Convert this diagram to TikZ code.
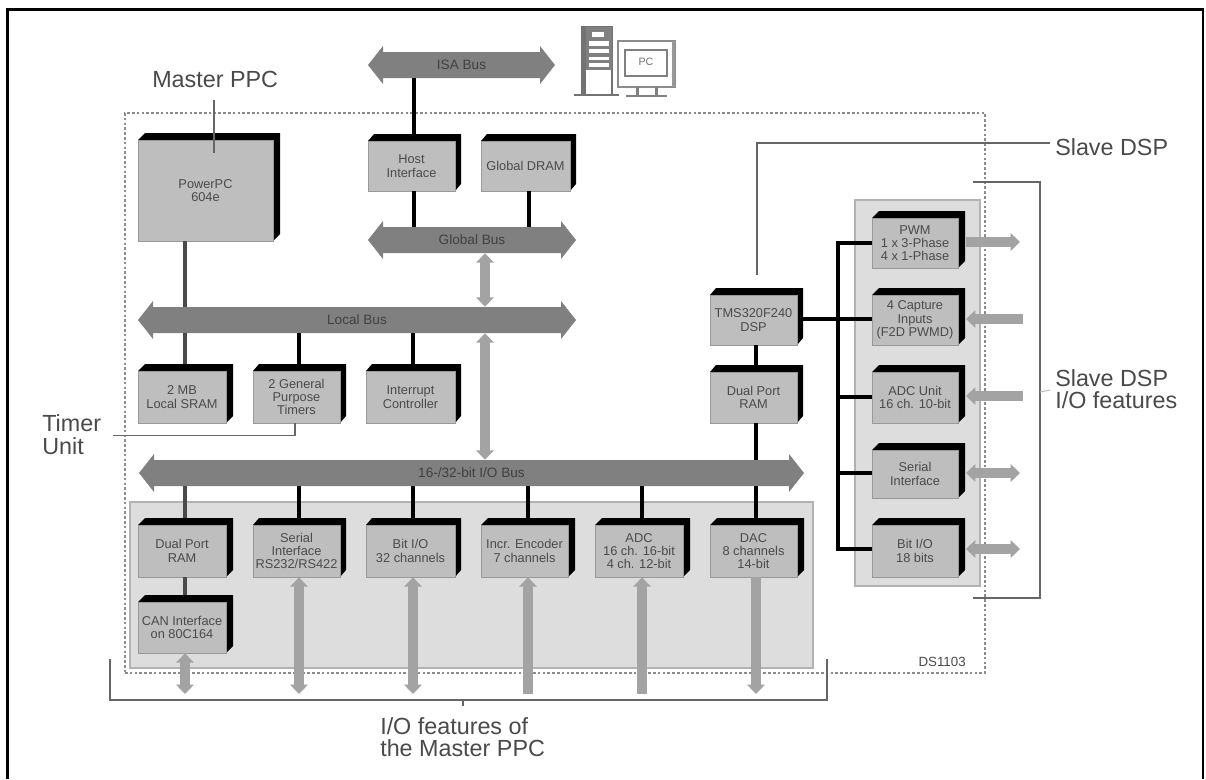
\documentclass[tikz,border=0pt]{standalone}
\usepackage{fontspec}
\setmainfont{Liberation Sans}
\usetikzlibrary{arrows.meta,calc}
\definecolor{boxgray}{HTML}{BEBEBE}
\definecolor{busgray}{HTML}{808080}
\definecolor{panelgray}{HTML}{DDDDDD}
\definecolor{arrowgray}{HTML}{A3A3A3}
\definecolor{inkgray}{HTML}{4A4A4A}
\definecolor{linegray}{HTML}{666666}
\tikzset{
  x=0.75pt,y=-0.75pt,
  boxface/.style={fill=boxgray,draw=black!40,line width=0.5pt,inner sep=0pt,align=center,font=\fontsize{9.6}{10}\selectfont,text=inkgray},
  busface/.style={inner sep=0pt,font=\fontsize{10.2}{11}\selectfont,text=black!75},
  caption/.style={anchor=west,inner sep=0pt,align=left,font=\fontsize{17.5}{16.8}\selectfont,text=inkgray},
  wirethin/.style={draw=black,line width=2.5pt},
  wirethick/.style={draw=inkgray,line width=3.6pt},
  leader/.style={draw=linegray,line width=1pt},
  ioboth/.style={draw=arrowgray,line width=7.5pt,{Triangle[length=7pt,width=13pt]}-{Triangle[length=7pt,width=13pt]}},
  ioout/.style={draw=arrowgray,line width=7.5pt,-{Triangle[length=7pt,width=13pt]}},
  dotline/.style={draw=black!45,line width=0.9pt,dash pattern=on 2pt off 1.6pt},
}
% name, x1, y1, x2, y2, depth, text
\newcommand{\solidbox}[7]{%
  \fill[black] (#2,#3) -- (#2+#6,#3-7) -- (#4+#6,#3-7) -- (#4+#6,#5-7) -- (#4,#5) -- cycle;
  \node[boxface,minimum width=(#4-#2)*0.75pt,minimum height=(#5-#3)*0.75pt] (#1) at ({(#2+#4)/2},{(#3+#5)/2}) {#7};
}
% name, x1, x2, ycentre, label
\newcommand{\busarrow}[5]{%
  \fill[busgray] (#2,#4) -- (#2+15,#4-19) -- (#2+15,#4-13) -- (#3-15,#4-13) -- (#3-15,#4-19) -- (#3,#4) -- (#3-15,#4+19) -- (#3-15,#4+13) -- (#2+15,#4+13) -- (#2+15,#4+19) -- cycle;
  \node[busface,minimum width=(#3-#2-30)*0.75pt,minimum height=26*0.75pt] (#1) at ({(#2+#3)/2},#4) {#5};
}
\begin{document}
\begin{tikzpicture}
\useasboundingbox (0,0) rectangle (1206,779);
\fill[white] (0,0) rectangle (1206,779);
% frame
\draw[black,line width=2.2pt] (7.5,779) coordinate (fa) -- (7.5,9.5) -- (1203,9.5) -- (1203,779);

% panels
\node[fill=panelgray,draw=black!30,line width=0.8pt,minimum width=683*0.75pt,minimum height=166*0.75pt,inner sep=0pt] (lowerpanel) at (471.5,585) {};
\node[fill=panelgray,draw=black!30,line width=0.8pt,minimum width=125*0.75pt,minimum height=386*0.75pt,inner sep=0pt] (rightpanel) at (917.5,393) {};
% DS1103 border
\node[dotline,minimum width=860*0.75pt,minimum height=560*0.75pt,inner sep=0pt] (ds) at (555,393) {};
\node[anchor=east,inner sep=0pt,font=\fontsize{10}{11}\selectfont,text=inkgray] (dslabel) at (966,662) {DS1103};

% buses
\busarrow{isa}{368}{555}{65}{ISA Bus}
\busarrow{gbus}{368}{576}{240}{Global Bus}
\busarrow{lbus}{138}{576}{320}{Local Bus}
\busarrow{iobus}{139}{804}{473}{16-/32-bit I/O Bus}

% boxes
\solidbox{ppc}{138}{140}{273}{241}{7}{PowerPC\\604e}
\solidbox{host}{368}{141}{455}{191}{6}{Host\\Interface}
\solidbox{dram}{481}{141}{570}{191}{6}{Global DRAM}
\solidbox{sram}{138}{371}{226}{423}{7}{2 MB\\Local SRAM}
\solidbox{timers}{253}{371}{340}{423}{6}{2 General\\Purpose\\Timers}
\solidbox{irq}{366}{371}{455}{423}{6}{Interrupt\\Controller}
\solidbox{dpm}{138}{525}{226}{577}{7}{Dual Port\\RAM}
\solidbox{serm}{253}{525}{340}{577}{6}{Serial\\Interface\\RS232/RS422}
\solidbox{bitm}{366}{525}{455}{577}{6}{Bit I/O\\32 channels}
\solidbox{enc}{481}{525}{568}{577}{7}{Incr. Encoder\\7 channels}
\solidbox{adcm}{595}{525}{683}{577}{7}{ADC\\16 ch. 16-bit\\4 ch. 12-bit}
\solidbox{dac}{710}{525}{797}{577}{7}{DAC\\8 channels\\14-bit}
\solidbox{can}{138}{602}{226}{653}{7}{CAN Interface\\on 80C164}
\solidbox{dsp}{710}{295}{797}{345}{6}{TMS320F240\\DSP}
\solidbox{dps}{710}{372}{797}{423}{6}{Dual Port\\RAM}
\solidbox{pwm}{872}{218}{958}{268}{7}{PWM\\1 x 3-Phase\\4 x 1-Phase}
\solidbox{cap}{872}{295}{958}{345}{7}{4 Capture\\Inputs\\(F2D PWMD)}
\solidbox{adcs}{872}{372}{958}{423}{7}{ADC Unit\\16 ch. 10-bit}
\solidbox{sers}{872}{450}{958}{498}{7}{Serial\\Interface}
\solidbox{bits}{872}{525}{958}{577}{7}{Bit I/O\\18 bits}

% wires
\draw[wirethick] (ppc.south -| 185,0) -- (lbus.north -| 185,0);
\draw[wirethick] (lbus.south -| 185,0) -- ($(sram.north -| 185,0)+(0,-7)$);
\draw[wirethin] (isa.south -| 414,0) -- ($(host.north -| 414,0)+(0,-7)$);
\draw[wirethin] (host.south -| 414,0) -- (gbus.north -| 414,0);
\draw[wirethin] (dram.south -| 529,0) -- (gbus.north -| 529,0);
\draw[wirethin] (lbus.south -| 299,0) -- ($(timers.north -| 299,0)+(0,-7)$);
\draw[wirethin] (lbus.south -| 413,0) -- ($(irq.north -| 413,0)+(0,-7)$);
\draw[wirethick] (iobus.south -| 185,0) -- ($(dpm.north -| 185,0)+(0,-7)$);
\draw[wirethick] (dpm.south -| 185,0) -- ($(can.north -| 185,0)+(0,-7)$);
\draw[wirethin] (iobus.south -| 299,0) -- ($(serm.north -| 299,0)+(0,-7)$);
\draw[wirethin] (iobus.south -| 413,0) -- ($(bitm.north -| 413,0)+(0,-7)$);
\draw[wirethin] (iobus.south -| 528,0) -- ($(enc.north -| 528,0)+(0,-7)$);
\draw[wirethin] (iobus.south -| 642,0) -- ($(adcm.north -| 642,0)+(0,-7)$);
\draw[wirethin] (iobus.south -| 756,0) -- ($(dac.north -| 756,0)+(0,-7)$);
\draw[wirethin] (dsp.south -| 756,0) -- ($(dps.north -| 756,0)+(0,-7)$);
\draw[wirethin] (dps.south -| 756,0) -- (iobus.north -| 756,0);
% slave bus
\draw[wirethin] (dsp.east) ++(6,-1) -- (cap.west |- 0,319);
\draw[wirethin] (pwm.west |- 0,243) -- (838,243) -- (838,549) -- (bits.west |- 0,549);
\draw[wirethin] (838,397) -- (adcs.west |- 0,397);
\draw[wirethin] (838,473) -- (sers.west |- 0,473);

% coordinates for free ends of I/O arrows
\coordinate (canout) at (185,694);
\coordinate (seroutm) at (299,694);
\coordinate (bitoutm) at (413,694);
\coordinate (encin) at (528,694);
\coordinate (adcin) at (642,694);
\coordinate (dacout) at (756,694);
\coordinate (pwmout) at (1020,242);
\coordinate (capin) at (1023,319);
\coordinate (adcsin) at (1023,396);
\coordinate (sersout) at (1020,473);
\coordinate (bitsout) at (1020,549);

% grey I/O arrows
\draw[ioboth] (gbus.south -| 485,0) -- (lbus.north -| 485,0);
\draw[ioboth] (lbus.south -| 485,0) -- (iobus.north -| 485,0);
\draw[ioboth] (can.south -| 185,0) -- (canout);
\draw[ioboth] (serm.south -| 299,0) -- (seroutm);
\draw[ioboth] (bitm.south -| 413,0) -- (bitoutm);
\draw[ioout] (encin) -- (enc.south -| 528,0);
\draw[ioout] (adcin) -- (adcm.south -| 642,0);
\draw[ioout] (dac.south -| 756,0) -- (dacout);
\draw[ioout] (966,242) -- (pwmout);
\draw[ioout] (capin) -- (966,319);
\draw[ioout] (adcsin) -- (966,396);
\draw[ioboth] (966,473) -- (sersout);
\draw[ioboth] (966,549) -- (bitsout);

% captions
\node[caption] (master) at (152,79) {Master PPC};
\node[caption] (slave) at (1055,147) {Slave DSP};
\node[caption] (slaveio) at (1055,389) {Slave DSP\\I/O features};
\node[caption] (timer) at (42,434.5) {Timer\\Unit};
\node[caption] (iof) at (380,737) {I/O features of\\the Master PPC};

% leaders
\draw[leader] (214,100) -- (214,153);
\draw[leader] (113,435.5) -- (295,435.5) -- (timers.south -| 295,0);
\draw[leader,shorten >=3.75pt] (757,275) -- (757,143) -- (slave.west |- 0,143);
\draw[leader] (973,182) -- (1040,182) -- (1040,598) -- (973,598);
\draw[leader] (110,659) -- (110,700) -- (827,700) -- (827,659);
\draw[leader] (463,700) -- (463,706);
\draw[draw=black!25,line width=0.8pt] (1040,392) -- (1050,390);

% PC icon
\draw[black!55,line width=1pt] (582,27) rectangle (612,95);
\fill[black!55] (582,27) rectangle (586,95);
\fill[black!50] (586,27) rectangle (612,70);
\fill[white] (589,41) rectangle (609,46);
\fill[white] (589,49) rectangle (609,53);
\fill[white] (589,57) rectangle (609,60);
\fill[white] (589,63) rectangle (609,67);
\fill[white] (592,32) rectangle (604,37);
\draw[black!55,line width=1.5pt] (574,95) -- (619,95);
\draw[black!45,line width=1pt] (618,41) rectangle (675,87);
\fill[black!40] (672,41) rectangle (675,87);
\draw[black!50,line width=1.4pt] (625,50) rectangle (667,76);
\node[inner sep=0pt,font=\fontsize{8}{9}\selectfont,text=black!55] (pclabel) at (646,62) {PC};
\fill[black!50] (636,87) rectangle (639,95);
\fill[black!50] (655,87) rectangle (658,95);
\draw[black!50,line width=1.2pt] (626,96) -- (667,96);
\end{tikzpicture}
\end{document}
